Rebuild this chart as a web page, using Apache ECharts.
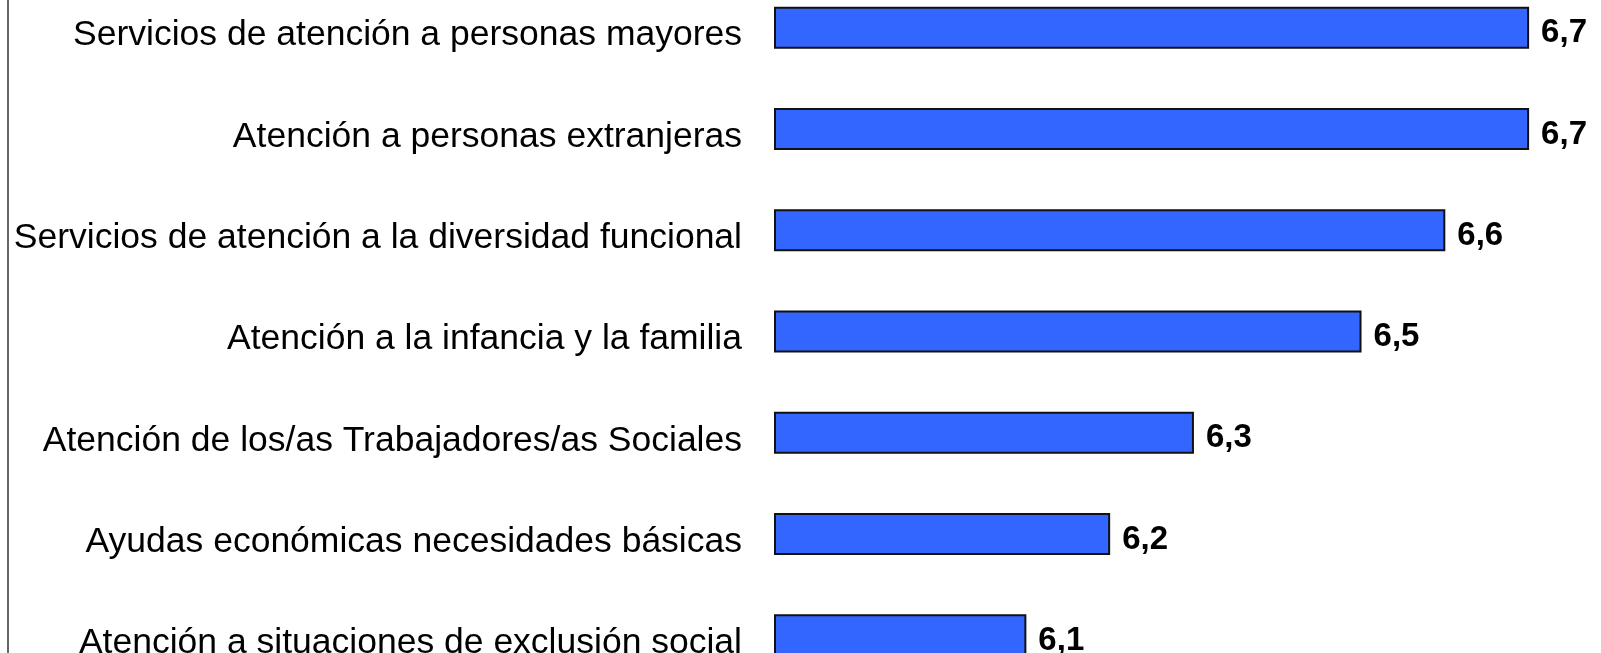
<!DOCTYPE html>
<html>
<head>
<meta charset="utf-8">
<script src="https://cdn.jsdelivr.net/npm/echarts@6/dist/echarts.min.js"></script>
<style>
  html, body { margin: 0; padding: 0; background: #fff; }
  #main { width: 1601px; height: 653px; }
</style>
</head>
<body>
<div id="main"></div>
<script>
var categories = [
    'Servicios de atención a personas mayores',
    'Atención a personas extranjeras',
    'Servicios de atención a la diversidad funcional',
    'Atención a la infancia y la familia',
    'Atención de los/as Trabajadores/as Sociales',
    'Ayudas económicas necesidades básicas',
    'Atención a situaciones de exclusión social'
];
var values = [6.7, 6.7, 6.6, 6.5, 6.3, 6.2, 6.1];

var chartDom = document.getElementById('main');
var myChart = echarts.init(chartDom);
var option;

option = {
    animation: false,
    backgroundColor: '#fff',
    grid: {
        left: 775,
        right: 30,
        top: -23,
        bottom: -33,
        outerBoundsMode: 'none',
        containLabel: false
    },
    xAxis: {
        type: 'value',
        min: 5.8,
        max: 6.75,
        show: false
    },
    yAxis: {
        type: 'category',
        inverse: true,
        data: categories,
        axisLine: { show: false },
        axisTick: { show: false },
        splitLine: { show: false },
        axisLabel: {
            color: '#000',
            fontFamily: 'Liberation Sans',
            fontSize: 35.5,
            margin: 33,
            // push text a little below the bar centre, as in the original
            verticalAlign: 'top',
            lineHeight: 16
        }
    },
    graphic: [{
        type: 'line',
        shape: { x1: 8, y1: 0, x2: 8, y2: 653 },
        style: { stroke: '#333', lineWidth: 1.5 }
    }],
    series: [
        {
            type: 'bar',
            data: values,
            barWidth: 42,
            itemStyle: {
                color: '#3366ff',
                borderColor: '#111',
                borderWidth: 2
            },
            label: {
                show: true,
                position: 'right',
                distance: 12,
                color: '#000',
                fontFamily: 'Liberation Sans',
                fontWeight: 'bold',
                fontSize: 33,
                verticalAlign: 'top',
                lineHeight: 11,
                formatter: function (p) {
                    return p.value.toFixed(1).replace('.', ',');
                }
            }
        }
    ]
};

option && myChart.setOption(option);
</script>
</body>
</html>
